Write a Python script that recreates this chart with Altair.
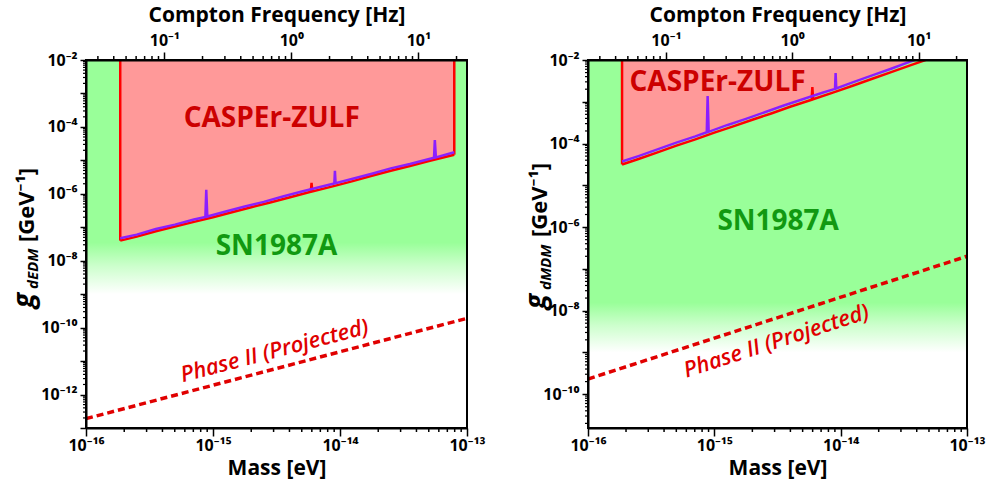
import altair as alt
import pandas as pd

# ------------------------------------------------------------------ data
MASS_DOMAIN = [1e-16, 1e-13]          # eV
FREQ_DOMAIN = [0.02418, 24.18]        # Hz, Compton frequency of the mass range

# ---- left panel : g_dEDM
edm_purple_mass = [1.86e-16, 2.51e-16, 3.55e-16, 5.01e-16, 7.08e-16, 8.71e-16, 8.85e-16, 9.02e-16,
                   1.26e-15, 1.78e-15, 2.51e-15, 3.55e-15, 5.01e-15, 7.08e-15, 9.02e-15, 9.12e-15,
                   9.23e-15, 1.26e-14, 1.78e-14, 2.51e-14, 3.55e-14, 5.50e-14, 5.58e-14, 5.69e-14,
                   7.94e-14]
edm_purple_g = [4.68e-8, 6.03e-8, 8.91e-8, 1.20e-7, 1.70e-7, 2.04e-7, 1.32e-6, 2.09e-7,
                2.95e-7, 4.17e-7, 5.75e-7, 8.32e-7, 1.17e-6, 1.62e-6, 2.04e-6, 4.90e-6,
                2.09e-6, 2.82e-6, 3.98e-6, 5.75e-6, 7.76e-6, 1.20e-5, 4.07e-5, 1.23e-5,
                1.74e-5]
edm_red_mass = [1.86e-16, 2.51e-16, 3.55e-16, 5.01e-16, 7.08e-16, 1.00e-15, 1.41e-15, 2.00e-15,
                2.82e-15, 3.98e-15, 5.89e-15, 5.97e-15, 6.05e-15, 8.91e-15, 1.26e-14, 1.78e-14,
                2.51e-14, 3.55e-14, 5.01e-14, 7.94e-14]
edm_red_g = [3.98e-8, 5.25e-8, 7.59e-8, 1.05e-7, 1.45e-7, 2.00e-7, 2.82e-7, 3.98e-7,
             5.50e-7, 7.76e-7, 1.15e-6, 2.14e-6, 1.17e-6, 1.70e-6, 2.40e-6, 3.47e-6,
             4.90e-6, 6.76e-6, 9.55e-6, 1.48e-5]
edm_edge_mass = [1.86e-16, 7.94e-14]
edm_edge_g = [3.98e-8, 1.48e-5]
edm_phase2_mass = [1e-16, 1e-13]
edm_phase2_g = [1.9e-13, 1.9e-10]
edm_sn_range = [1e-9, 1e-2]
edm_y_domain = [1e-13, 1e-2]
edm_label_mass = [2.9e-15, 3.16e-15, 3.05e-15]
edm_label_g = [1.74e-4, 2.5e-8, 2.0e-11]

# ---- right panel : g_dMDM
mdm_purple_mass = [1.86e-16, 2.51e-16, 3.55e-16, 5.01e-16, 7.08e-16, 8.71e-16, 8.85e-16, 9.02e-16,
                   1.26e-15, 1.78e-15, 2.51e-15, 3.55e-15, 5.01e-15, 7.08e-15, 9.02e-15, 9.12e-15,
                   9.23e-15, 1.26e-14, 1.78e-14, 2.51e-14, 3.55e-14, 5.01e-14]
mdm_purple_g = [3.72e-5, 5.01e-5, 7.24e-5, 1.05e-4, 1.48e-4, 1.86e-4, 1.38e-3, 1.91e-4,
                2.75e-4, 3.89e-4, 5.62e-4, 8.13e-4, 1.15e-3, 1.62e-3, 2.04e-3, 4.90e-3,
                2.09e-3, 2.95e-3, 4.27e-3, 6.17e-3, 9.12e-3, 1.32e-2]
mdm_red_mass = [1.86e-16, 2.51e-16, 3.55e-16, 5.01e-16, 7.08e-16, 1.00e-15, 1.41e-15, 2.00e-15,
                2.82e-15, 3.98e-15, 5.89e-15, 5.97e-15, 6.05e-15, 8.91e-15, 1.26e-14, 1.78e-14,
                2.51e-14, 3.55e-14, 5.01e-14, 7.94e-14]
mdm_red_g = [3.16e-5, 4.27e-5, 6.17e-5, 8.91e-5, 1.26e-4, 1.82e-4, 2.57e-4, 3.72e-4,
             5.25e-4, 7.59e-4, 1.12e-3, 2.24e-3, 1.15e-3, 1.70e-3, 2.45e-3, 3.55e-3,
             5.13e-3, 7.41e-3, 1.07e-2, 1.74e-2]
mdm_edge_mass = [1.86e-16]
mdm_edge_g = [3.16e-5]
mdm_phase2_mass = [1e-16, 1e-13]
mdm_phase2_g = [2.3e-10, 2.0e-7]
mdm_sn_range = [1e-9, 1e-2]
mdm_y_domain = [1.55e-11, 1e-2]
mdm_label_mass = [1.06e-15, 3.2e-15, 3.1e-15]
mdm_label_g = [2.8e-3, 1.3e-6, 1.86e-9]

label_texts = ["CASPEr-ZULF", "SN1987A", "Phase II (Projected)"]


# tick positions: decades (major) and 2..9 multiples (minor)
def decades(e0, e1):
    return [float(f"1e{e}") for e in range(e0, e1 + 1)]


def minors(e0, e1, kmin=2):
    vals = []
    for e in range(e0, e1):
        for k in range(2, 10):
            if e == e0 and k < kmin:
                continue
            vals.append(float(f"{k}e{e}"))
    return vals


mass_major = decades(-16, -13)
mass_minor = minors(-16, -13)
freq_major = decades(-1, 1)
freq_minor = [float(f"{k}e-2") for k in range(3, 10)] + minors(-1, 1) + [20.0]
edm_y_major = decades(-13, -2)
edm_y_minor = minors(-13, -2)
mdm_y_major = decades(-10, -2)
mdm_y_minor = minors(-11, -2)
mass_label_exps = [-16, -15, -14, -13]
freq_label_exps = [-1, 0, 1]
edm_label_exps = [-12, -10, -8, -6, -4, -2]
mdm_label_exps = [-10, -8, -6, -4, -2]

# ------------------------------------------------------------------ style
FONT = "Open Sans, Noto Sans, DejaVu Sans"
GREEN = "#99FF99"
PINK = "#FF9999"
RED = "#FF0000"
PURPLE = "#8B1EFF"
H = 368
SUP = str.maketrans("-0123456789",
                    "\u207b\u2070\u00b9\u00b2\u00b3\u2074\u2075\u2076\u2077\u2078\u2079")


def pow_expr(exps):
    s = ""
    for e in exps:
        s += f"abs(datum.value / 1e{e} - 1) < 0.001 ? '10{str(e).translate(SUP)}' : "
    return s + "''"


def make_axis(orient, values, exps, title, tick, **kw):
    return alt.Axis(orient=orient, values=values, labelExpr=pow_expr(exps), title=title,
                    tickSize=tick, grid=False, domainColor="black", domainWidth=2,
                    tickColor="black", tickWidth=1.5, labelFont=FONT, labelFontSize=16,
                    labelFontWeight="bold", labelColor="black", labelOverlap=False,
                    labelFlush=False, titleFont=FONT, titleFontSize=21,
                    titleFontWeight="bold", titleColor="black", zindex=1, **kw)


def panel(W, pm, pg, rm, rg, em, eg, p2m, p2g, sn, ydom, ymajor, yminor, yexps, lm, lg,
          fade, phase_angle, sub, title_pos):
    xs = alt.Scale(type="log", domain=MASS_DOMAIN, nice=False)
    ys = alt.Scale(type="log", domain=ydom, nice=False)
    xaxis = make_axis("bottom", mass_major, mass_label_exps, "Mass [eV]", 8,
                      labelPadding=1, titlePadding=4)
    yaxis = make_axis("left", ymajor, yexps, None, 6, labelPadding=3)

    def X(f):
        return alt.X(f, type="quantitative", scale=xs, axis=xaxis)

    def Y(f):
        return alt.Y(f, type="quantitative", scale=ys, axis=yaxis)

    top = ydom[1]
    grad = alt.LinearGradient(gradient="linear", x1=0, x2=0, y1=0, y2=1, stops=[
        alt.GradientStop(offset=0, color=GREEN),
        alt.GradientStop(offset=fade, color=GREEN),
        alt.GradientStop(offset=fade + (1 - fade) * 0.45, color="#CCFFCC"),
        alt.GradientStop(offset=1, color="#FFFFFF")])
    sn_df = pd.DataFrame({"m1": [MASS_DOMAIN[0]], "m2": [MASS_DOMAIN[1]],
                          "g1": [sn[0]], "g2": [sn[1]]})
    green = alt.Chart(sn_df).mark_rect(color=grad).encode(
        x=X("m1"), x2="m2", y=Y("g1"), y2="g2")

    pdf = pd.DataFrame({"m": pm, "g": pg, "top": top})
    rdf = pd.DataFrame({"m": rm, "g": rg})
    edf = pd.DataFrame({"m": em, "g": eg, "top": top})
    p2df = pd.DataFrame({"m": p2m, "g": p2g})

    fill = alt.Chart(pdf).mark_area(color=PINK, clip=True).encode(
        x=X("m"), y=Y("g"), y2="top")
    edges = alt.Chart(edf).mark_rule(color=RED, strokeWidth=2.5, clip=True).encode(
        x=X("m"), y=Y("g"), y2="top")
    red = alt.Chart(rdf).mark_line(color=RED, strokeWidth=2.5, clip=True).encode(
        x=X("m"), y=Y("g"))
    purple = alt.Chart(pdf).mark_line(color=PURPLE, strokeWidth=2.5, clip=True).encode(
        x=X("m"), y=Y("g"))
    phase2 = alt.Chart(p2df).mark_line(color="#E00000", strokeWidth=3.5,
                                       strokeDash=[7, 4], clip=True).encode(
        x=X("m"), y=Y("g"))

    # minor ticks
    xmin_t = alt.Chart(pd.DataFrame({"m": mass_minor})).mark_rule(
        color="black", strokeWidth=1.5).encode(x=X("m"), y=alt.value(H), y2=alt.value(H + 4))
    ymin_t = alt.Chart(pd.DataFrame({"g": yminor})).mark_rule(
        color="black", strokeWidth=1.2).encode(y=Y("g"), x=alt.value(0), x2=alt.value(-3))
    frame = alt.Chart(pd.DataFrame({"a": [0]})).mark_rect(
        filled=False, stroke="black", strokeWidth=2).encode(
        x=alt.value(0), x2=alt.value(W), y=alt.value(0), y2=alt.value(H))

    ldf = pd.DataFrame({"m": lm, "g": lg, "t": label_texts})
    t_casper = alt.Chart(ldf.iloc[[0]]).mark_text(
        font=FONT, fontSize=28, fontWeight="bold", color="#CC0000").encode(
        x=X("m"), y=Y("g"), text="t")
    t_sn = alt.Chart(ldf.iloc[[1]]).mark_text(
        font=FONT, fontSize=28, fontWeight="bold", color="#119911").encode(
        x=X("m"), y=Y("g"), text="t")
    t_p2 = alt.Chart(ldf.iloc[[2]]).mark_text(
        font=FONT, fontSize=22, fontWeight=600, fontStyle="italic", color="#E00000",
        angle=phase_angle).encode(x=X("m"), y=Y("g"), text="t")

    one = pd.DataFrame({"a": [0]})
    (gx, gy), (sx, sy), (bx, by) = title_pos
    yt_g = alt.Chart(one).mark_text(text="g", font=FONT, fontSize=28, fontWeight="bold",
                                    fontStyle="italic", angle=270, align="left",
                                    baseline="alphabetic", color="black").encode(
        x=alt.value(gx), y=alt.value(gy))
    yt_sub = alt.Chart(one).mark_text(text=sub, font=FONT, fontSize=15, fontWeight="bold",
                                      fontStyle="italic", angle=270, align="left",
                                      baseline="alphabetic", color="black").encode(
        x=alt.value(sx), y=alt.value(sy))
    yt_unit = alt.Chart(one).mark_text(text="[GeV\u207b\u00b9]", font=FONT, fontSize=22,
                                       fontWeight="bold", angle=270, align="left",
                                       baseline="alphabetic", color="black").encode(
        x=alt.value(bx), y=alt.value(by))

    inner = alt.layer(green, fill, edges, red, purple, phase2, xmin_t, ymin_t, frame,
                      t_casper, t_sn, t_p2, yt_g, yt_sub, yt_unit)

    fscale = alt.Scale(type="log", domain=FREQ_DOMAIN, nice=False)
    faxis = make_axis("top", freq_major, freq_label_exps, "Compton Frequency [Hz]", 8,
                      labelPadding=4, titlePadding=7)
    freq = alt.Chart(pd.DataFrame({"f": FREQ_DOMAIN})).mark_point(opacity=0).encode(
        x=alt.X("f", type="quantitative", scale=fscale, axis=faxis), y=alt.value(0))
    fmin_t = alt.Chart(pd.DataFrame({"f": freq_minor})).mark_rule(
        color="black", strokeWidth=1.5).encode(
        x=alt.X("f", type="quantitative", scale=fscale, axis=faxis),
        y=alt.value(0), y2=alt.value(-4))

    return alt.layer(inner, alt.layer(freq, fmin_t)).resolve_scale(
        x="independent").properties(width=W, height=H)


left = panel(381, edm_purple_mass, edm_purple_g, edm_red_mass, edm_red_g, edm_edge_mass,
             edm_edge_g, edm_phase2_mass, edm_phase2_g, edm_sn_range, edm_y_domain,
             edm_y_major, edm_y_minor, edm_label_exps, edm_label_mass, edm_label_g, 0.78,
             345.3, "dEDM", ((-53, 248), (-48, 229), (-52, 182)))
right = panel(379, mdm_purple_mass, mdm_purple_g, mdm_red_mass, mdm_red_g, mdm_edge_mass,
              mdm_edge_g, mdm_phase2_mass, mdm_phase2_g, mdm_sn_range, mdm_y_domain,
              mdm_y_major, mdm_y_minor, mdm_label_exps, mdm_label_mass, mdm_label_g, 0.83,
              342.0, "dMDM", ((-43, 249), (-37, 230), (-41, 177)))

chart = alt.hconcat(left, right, spacing=35).configure_view(
    stroke="black", strokeWidth=2).properties(
    padding={"left": 10, "top": 3, "right": 0, "bottom": 0}, background="white")

chart.save("out.html", embed_options={"renderer": "svg", "actions": False})
